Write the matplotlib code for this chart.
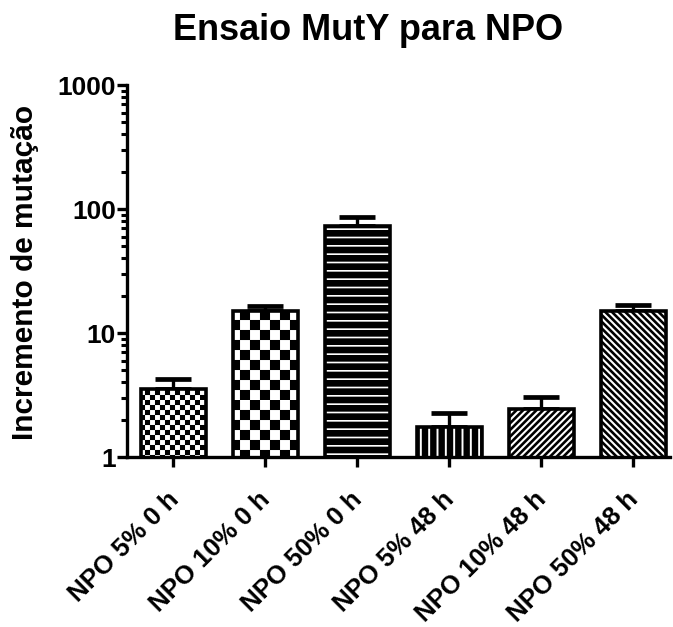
import warnings
import numpy as np
import matplotlib
matplotlib.use('Agg')
import matplotlib.pyplot as plt
import matplotlib.hatch as mhatch
from matplotlib.path import Path
from matplotlib.ticker import LogLocator, NullFormatter

warnings.filterwarnings('ignore')

# ---- data ----
labels = ['NPO 5% 0 h', 'NPO 10% 0 h', 'NPO 50% 0 h',
          'NPO 5% 48 h', 'NPO 10% 48 h', 'NPO 50% 48 h']
means = [3.56, 15.1, 73.0, 1.75, 2.45, 15.0]
upper = [4.23, 16.5, 86.0, 2.25, 3.04, 16.8]   # top of the error bars

title_text = 'Ensaio MutY para NPO'
ylabel_text = 'Incremento de mutação'


# checkerboard hatch ('c' = 10 cells per inch, 'cc' = 20 ...)
class CheckerHatch(mhatch.HatchPatternBase):
    def __init__(self, hatch, density):
        self.n = hatch.count('c') * 10
        self.num_vertices = (self.n * self.n // 2) * 5 if self.n else 0

    def set_vertices_and_codes(self, vertices, codes):
        n = self.n
        s = 1.0 / n
        k = 0
        for i in range(n):
            for j in range(n):
                if (i + j) % 2:
                    continue
                x0, y0 = i * s, j * s
                vertices[k:k + 5] = [(x0, y0), (x0 + s, y0), (x0 + s, y0 + s),
                                     (x0, y0 + s), (x0, y0)]
                codes[k:k + 5] = [Path.MOVETO, Path.LINETO, Path.LINETO,
                                  Path.LINETO, Path.CLOSEPOLY]
                k += 5


mhatch._hatch_types.append(CheckerHatch)


def hatch_lw(patch, lw):
    if hasattr(patch, 'set_hatch_linewidth'):
        patch.set_hatch_linewidth(lw)
    orig = patch.draw

    def draw(renderer):
        with plt.rc_context({'hatch.linewidth': lw}):
            orig(renderer)
    patch.draw = draw


plt.rcParams['font.family'] = ['Liberation Sans', 'DejaVu Sans']
plt.rcParams['font.weight'] = 'bold'

# face, hatch colour, hatch, hatch linewidth
styles = [('white', 'black', 'cc', 0.05),
          ('white', 'black', 'c', 0.05),
          ('black', 'white', '--', 1.2),
          ('black', 'white', '||', 1.4),
          ('white', 'black', '/////', 1.9),
          ('white', 'black', '\\\\\\\\\\', 1.9)]

fig = plt.figure(figsize=(6.73, 6.27), dpi=100)
ax = fig.add_axes([0.189, 0.271, 0.8065, 0.5934])

x = np.arange(len(labels))
width = 0.71
for i in range(len(labels)):
    face, hcol, hatch, hlw = styles[i]
    with plt.rc_context({'hatch.linewidth': hlw}):
        b = ax.bar(x[i], means[i], width, color=face, edgecolor=hcol,
                   hatch=hatch, linewidth=0, zorder=2)
    for p in b:
        hatch_lw(p, hlw)
ax.bar(x, means, width, fill=False, edgecolor='black', linewidth=2.6, zorder=3)

err = np.array(upper) - np.array(means)
ax.errorbar(x, means, yerr=[np.zeros_like(err), err], fmt='none',
            ecolor='black', elinewidth=2.4, capsize=13, capthick=3.4, zorder=1)

ax.set_yscale('log')
ax.set_ylim(1, 1000)
ax.set_xlim(-0.5, 5.4)
ax.set_yticks([1, 10, 100, 1000], ['1', '10', '100', '1000'])
ax.yaxis.set_minor_locator(LogLocator(base=10, subs=np.arange(2, 10)))
ax.yaxis.set_minor_formatter(NullFormatter())
ax.set_xticks(x)
ax.tick_params(axis='x', labelbottom=False)

# rotated category labels, anchored under each tick
for i, lab in enumerate(labels):
    ax.annotate(lab, xy=(x[i], 0), xycoords=('data', 'axes fraction'),
                xytext=(-5, -21.5), textcoords='offset points',
                rotation=45, ha='right', va='top', rotation_mode='anchor',
                fontsize=18.5, fontweight='bold', annotation_clip=False)

for s in ['top', 'right']:
    ax.spines[s].set_visible(False)
for s in ['left', 'bottom']:
    ax.spines[s].set_linewidth(2.4)
ax.tick_params(axis='y', which='major', direction='out', length=7, width=2.4,
               labelsize=19, pad=1)
ax.tick_params(axis='y', which='minor', direction='out', length=4.5, width=2.2)
ax.tick_params(axis='x', direction='out', length=7.5, width=2.4)

fig.text(368 / 673, 1 - 40 / 627, title_text, ha='center', va='baseline',
         fontsize=26, fontweight='bold')
fig.text(25 / 673, 1 - 272 / 627, ylabel_text, rotation=90, ha='center',
         va='center', fontsize=21.5, fontweight='bold')

fig.savefig('out.png', dpi=100)
